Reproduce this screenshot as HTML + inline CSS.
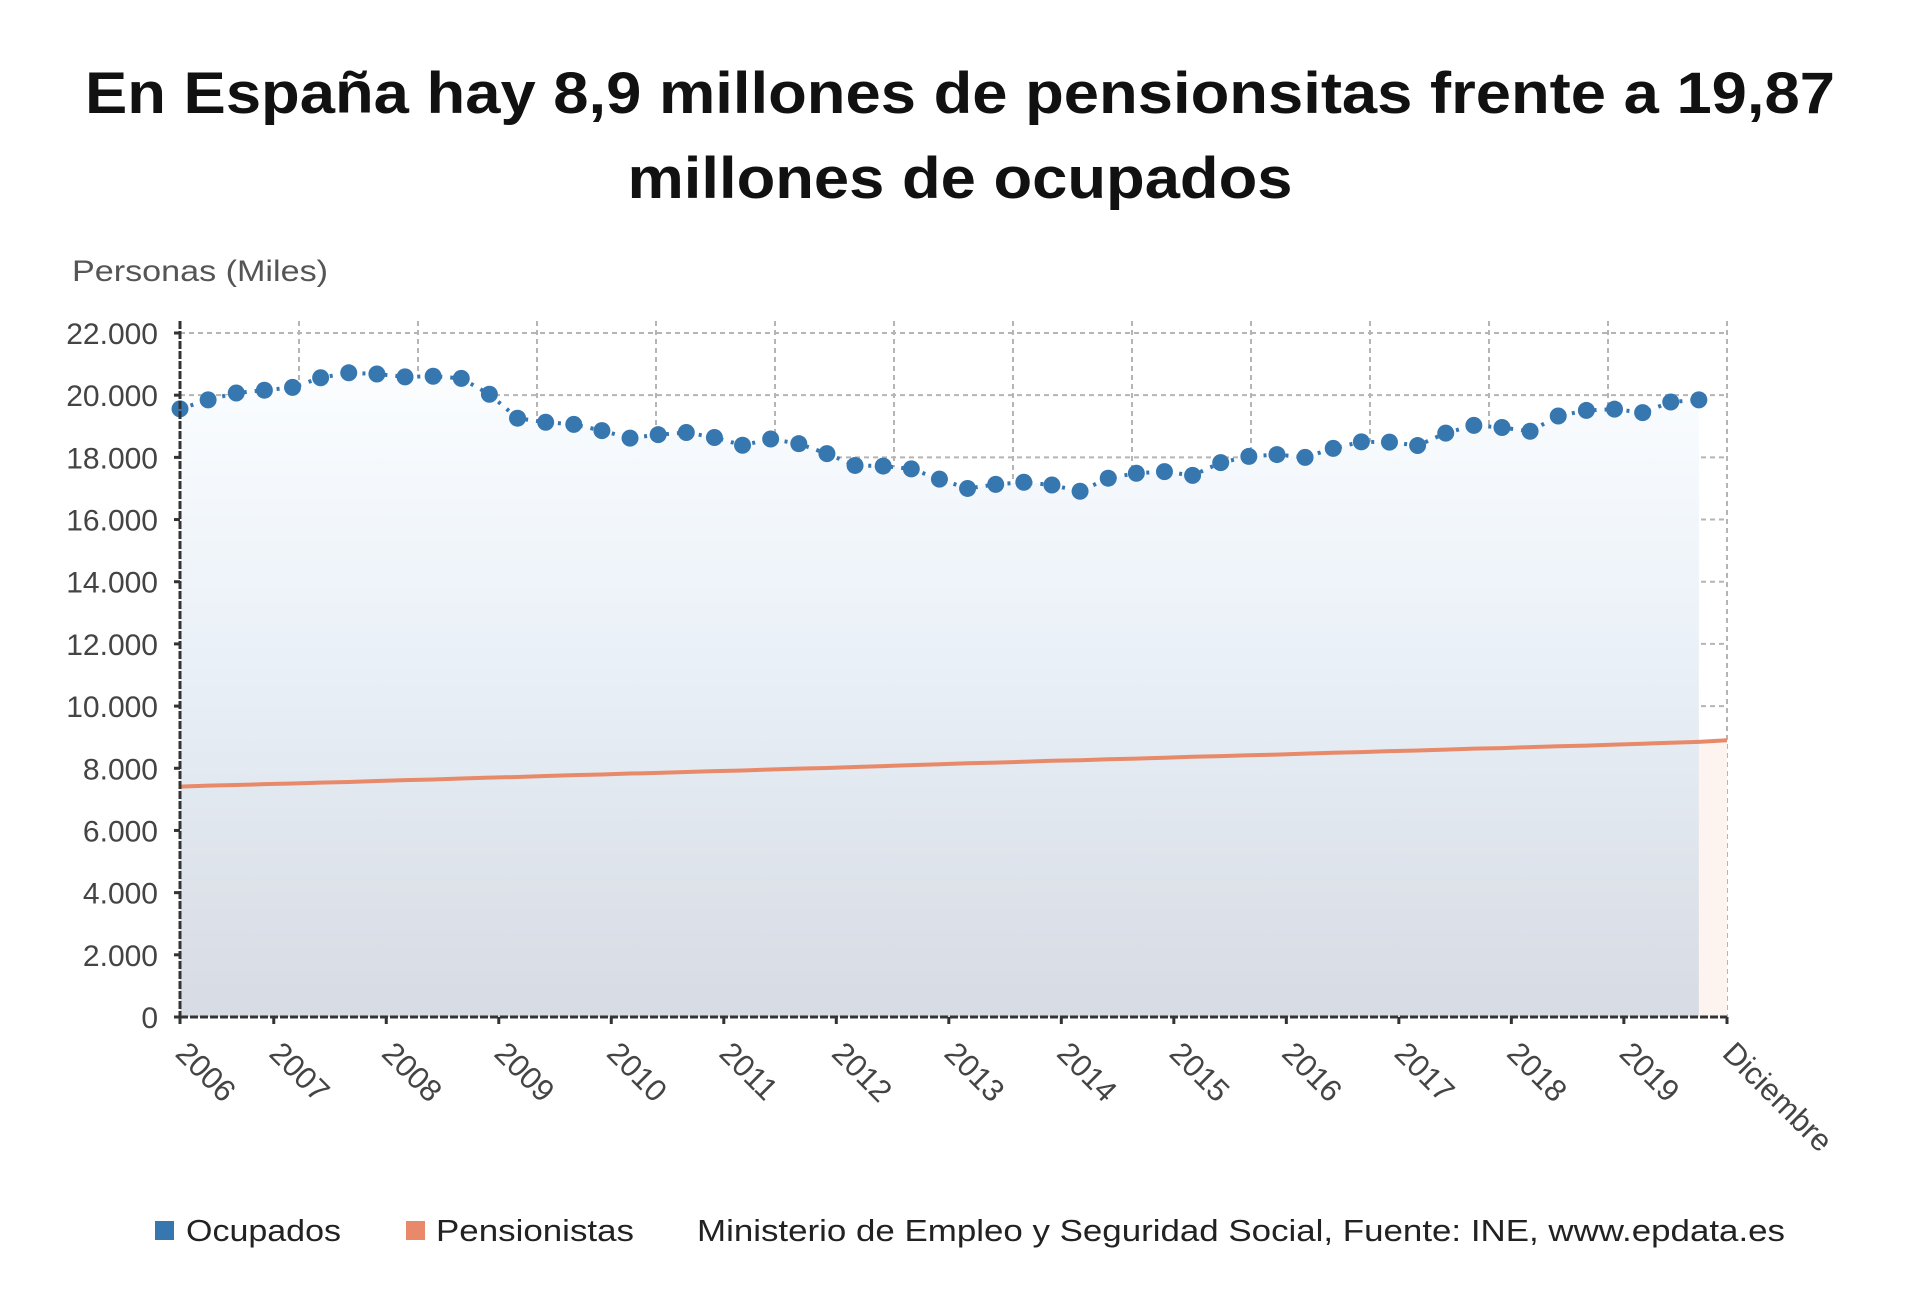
<!DOCTYPE html>
<html><head><meta charset="utf-8"><style>
html,body{margin:0;padding:0;background:#fff;}
svg{display:block;font-family:"Liberation Sans",sans-serif;}
</style></head><body>
<svg id="chart" width="1920" height="1294" viewBox="0 0 1920 1294" xmlns="http://www.w3.org/2000/svg">
<defs>
<linearGradient id="gb" x1="0" y1="0" x2="0" y2="1"><stop offset="0" stop-color="#fbfdff"/><stop offset="0.45" stop-color="#e9f0f7"/><stop offset="1" stop-color="#d7dbe3"/></linearGradient>
</defs>
<text x="960" y="113" text-anchor="middle" font-size="58" font-weight="bold" fill="#111" textLength="1750" lengthAdjust="spacingAndGlyphs">En España hay 8,9 millones de pensionsitas frente a 19,87</text>
<text x="960" y="198" text-anchor="middle" font-size="58" font-weight="bold" fill="#111" textLength="665" lengthAdjust="spacingAndGlyphs">millones de ocupados</text>
<text x="72" y="281" font-size="30" fill="#555" textLength="256" lengthAdjust="spacingAndGlyphs">Personas (Miles)</text>
<g id="grid"></g>
<g id="areas"></g>
<g id="lines"></g>
<g id="axes"></g>
<g>
<rect x="155" y="1221" width="19" height="19" fill="#3777b0"/>
<text x="186" y="1241" font-size="31" fill="#222" textLength="155" lengthAdjust="spacingAndGlyphs">Ocupados</text>
<rect x="406" y="1221" width="19" height="19" fill="#e8896a"/>
<text x="436" y="1241" font-size="31" fill="#222" textLength="198" lengthAdjust="spacingAndGlyphs">Pensionistas</text>
<text x="697" y="1241" font-size="31" fill="#222" textLength="1088" lengthAdjust="spacingAndGlyphs">Ministerio de Empleo y Seguridad Social, Fuente: INE, www.epdata.es</text>
</g>
</svg>
<script>
const ocupados = [19560,19850,20070,20160,20250,20560,20720,20680,20590,20610,20540,20030,19260,19130,19060,18860,18620,18730,18800,18640,18390,18590,18440,18120,17740,17720,17630,17300,17000,17130,17200,17110,16910,17330,17490,17540,17420,17830,18030,18090,18000,18290,18500,18490,18380,18780,19030,18960,18840,19330,19510,19550,19440,19780,19850];
const pensionistas = [7410,7440,7460,7490,7510,7540,7560,7590,7620,7640,7670,7700,7720,7750,7780,7800,7830,7850,7880,7910,7930,7960,7990,8010,8040,8070,8100,8130,8160,8180,8210,8240,8260,8290,8310,8340,8370,8390,8420,8440,8470,8500,8520,8550,8570,8600,8630,8650,8680,8710,8730,8760,8790,8820,8850,8900];
const yTicks = [0,2000,4000,6000,8000,10000,12000,14000,16000,18000,20000,22000];
const yTickLabels = ["0","2.000","4.000","6.000","8.000","10.000","12.000","14.000","16.000","18.000","20.000","22.000"];
const xTickMonths = [0,10,22,34,46,58,70,82,94,106,118,130,142,154];
const xTickLabels = ["2006","2007","2008","2009","2010","2011","2012","2013","2014","2015","2016","2017","2018","2019"];
const NS="http://www.w3.org/2000/svg";
const X0=180,X1=1727,Y0=1017,Y1=333,YMAX=22000,QMAX=55;
const xq=q=>X0+(X1-X0)*q/QMAX;
const xm=m=>X0+(X1-X0)*m/(QMAX*3);
const y=v=>Y0-(Y0-Y1)*v/YMAX;
function mk(tag,attrs,parent){const e=document.createElementNS(NS,tag);for(const k in attrs)e.setAttribute(k,attrs[k]);document.getElementById(parent).appendChild(e);return e;}
yTicks.forEach((v,i)=>{
 if(v>0){const g=mk('line',{x1:X0,x2:X1,y1:y(v),y2:y(v),stroke:'#b5b5b5','stroke-width':2,'stroke-dasharray':'5,4'},'grid');
 
 }
 const t=mk('text',{x:158,y:y(v)+11,'text-anchor':'end','font-size':30,fill:'#444'},'axes');t.textContent=yTickLabels[i];
 
 
 const tk=mk('line',{x1:X0-6,x2:X0,y1:y(v),y2:y(v),stroke:'#333','stroke-width':3},'axes');
 
 
});
for(let k=1;k<=13;k++){const xx=X0+(X1-X0)*k/13;
 const g=mk('line',{x1:xx,x2:xx,y1:Y1-12,y2:Y0,stroke:'#b5b5b5','stroke-width':2,'stroke-dasharray':'5,4'},'grid');
 
 }
let pa=`M${xq(0)},${Y0}`;pensionistas.forEach((v,i)=>pa+=` L${xq(i)},${y(v)}`);pa+=` L${xq(pensionistas.length-1)},${Y0} Z`;
const ap=mk('path',{d:pa,fill:'#fdf3ef'},'areas');


let oa=`M${xq(0)},${Y0}`;ocupados.forEach((v,i)=>oa+=` L${xq(i)},${y(v)}`);oa+=` L${xq(ocupados.length-1)},${Y0} Z`;
const ao=mk('path',{d:oa,fill:'url(#gb)'},'areas');


const pl=mk('polyline',{points:pensionistas.map((v,i)=>xq(i)+','+y(v)).join(' '),fill:'none',stroke:'#e8896a','stroke-width':4},'lines');


const ol=mk('polyline',{points:ocupados.map((v,i)=>xq(i)+','+y(v)).join(' '),fill:'none',stroke:'#3777b0','stroke-width':4,'stroke-dasharray':'3,8'},'lines');


ocupados.forEach((v,i)=>{const c=mk('circle',{cx:xq(i),cy:y(v),r:8.5,fill:'#3777b0'},'lines');
 
 });
const la=mk('line',{x1:X0,x2:X0,y1:Y1-12,y2:Y0,stroke:'#333','stroke-width':3,'stroke-dasharray':'8,2'},'axes');


const ba=mk('line',{x1:X0,x2:X1,y1:Y0,y2:Y0,stroke:'#333','stroke-width':3,'stroke-dasharray':'8,2'},'axes');


const labels=xTickLabels.concat(["Diciembre"]);
labels.forEach((lab,i)=>{const xx=i<14?xm(xTickMonths[i]):X1;
 const tk=mk('line',{x1:xx,x2:xx,y1:Y0,y2:Y0+7,stroke:'#333','stroke-width':3},'axes');
 
 
 const t=mk('text',{x:xx-6,y:Y0+38,'font-size':31,fill:'#444',transform:`rotate(45 ${xx-6} ${Y0+38})`},'axes');
 t.textContent=lab;
 
 });
</script>
</body></html>
